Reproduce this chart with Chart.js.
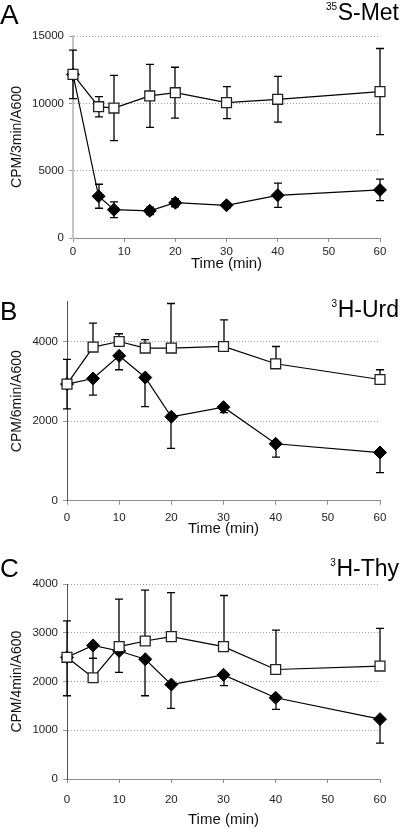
<!DOCTYPE html>
<html>
<head>
<meta charset="utf-8">
<script src="https://cdn.jsdelivr.net/npm/chart.js@4.4.1/dist/chart.umd.min.js"></script>
<style>
  body { margin: 0; background: #fff; }
  #wrap { position: relative; width: 400px; height: 829px; overflow: hidden; }
  canvas { position: absolute; left: 0; }
</style>
</head>
<body>
<div id="wrap">
  <canvas id="chartA" width="400" height="275" style="top:0px"></canvas>
  <canvas id="chartB" width="400" height="262" style="top:278px"></canvas>
  <canvas id="chartC" width="400" height="289" style="top:540px"></canvas>
</div>
<script>
// time points (min)
const timesA = [0, 5, 8, 15, 20, 30, 40, 60];
const timesBC = [0, 5, 10, 15, 20, 30, 40, 60];
const xTicks = [0, 10, 20, 30, 40, 50, 60];

// A: 35S-Met (open squares / filled diamonds, symmetric errors)
const openA = [12150, 9750, 9650, 10550, 10790, 10050, 10300, 10870];
const openErrA = [1800, 750, 2420, 2340, 1890, 1190, 1700, 3200];
const closedA = [12150, 3100, 2100, 2020, 2620, 2430, 3170, 3570];
const closedErrA = [0, 890, 580, 280, 300, 200, 900, 800];
const yTicksA = [0, 5000, 10000, 15000];

// B: 3H-Urd (open: plus error only, closed: minus error only)
const openB = [2930, 3860, 4000, 3835, 3835, 3875, 3440, 3045];
const openErrB = [620, 600, 195, 210, 1120, 670, 435, 245];
const closedB = [2930, 3070, 3640, 3095, 2110, 2350, 1430, 1210];
const closedErrB = [625, 415, 350, 730, 795, 135, 335, 505];
const yTicksB = [0, 2000, 4000];

// C: 3H-Thy
const openC = [2500, 2080, 2720, 2835, 2925, 2720, 2250, 2320];
const openErrC = [750, 400, 975, 1045, 905, 1050, 810, 775];
const closedC = [2500, 2745, 2630, 2460, 1940, 2140, 1670, 1230];
const closedErrC = [790, 265, 440, 750, 490, 220, 240, 495];
const yTicksC = [0, 1000, 2000, 3000, 4000];

const FONT = '"Liberation Sans", Arial, Helvetica, sans-serif';

const toPoints = (xs, ys) => xs.map((x, i) => ({ x: x, y: ys[i] }));

// vertical error bars with caps, drawn under the lines and markers
const errorBars = {
  id: 'errorBars',
  beforeDatasetsDraw(chart) {
    const ctx = chart.ctx;
    const yScale = chart.scales.y;
    chart.data.datasets.forEach((ds, di) => {
      if (!ds.errors) return;
      const meta = chart.getDatasetMeta(di);
      ctx.save();
      ctx.strokeStyle = '#000';
      ctx.lineWidth = 1.3;
      meta.data.forEach((pt, i) => {
        const v = ds.data[i].y, e = ds.errors[i];
        if (!e) return;
        const hi = ds.errorDir === 'minus' ? v : v + e;
        const lo = ds.errorDir === 'plus' ? v : v - e;
        const x = Math.round(pt.x);
        const yHi = yScale.getPixelForValue(hi);
        const yLo = yScale.getPixelForValue(lo);
        ctx.beginPath();
        ctx.moveTo(x, yHi);
        ctx.lineTo(x, yLo);
        if (ds.errorDir !== 'minus') { ctx.moveTo(x - 4, yHi); ctx.lineTo(x + 4, yHi); }
        if (ds.errorDir !== 'plus') { ctx.moveTo(x - 4, yLo); ctx.lineTo(x + 4, yLo); }
        ctx.stroke();
      });
      ctx.restore();
    });
  }
};

// panel letter + isotope label with superscript
const panelText = {
  id: 'panelText',
  afterDraw(chart, args, opts) {
    const ctx = chart.ctx;
    ctx.save();
    ctx.fillStyle = '#000';
    ctx.textBaseline = 'alphabetic';
    ctx.textAlign = 'left';
    ctx.font = opts.letterSize + 'px ' + FONT;
    ctx.fillText(opts.letter, 0, opts.letterY);
    ctx.font = '23px ' + FONT;
    ctx.textAlign = 'right';
    ctx.fillText(opts.name, 399, opts.nameY);
    const w = ctx.measureText(opts.name).width;
    ctx.font = '10px ' + FONT;
    ctx.fillText(opts.sup, 399 - w - 0.5, opts.nameY - 10);
    ctx.restore();
  }
};

function makeChart(id, cfg) {
  const canvas = document.getElementById(id);
  const H = canvas.height;
  return new Chart(canvas, {
    type: 'line',
    data: {
      datasets: [
        {
          data: toPoints(cfg.times, cfg.open),
          errors: cfg.openErr,
          errorDir: cfg.openDir,
          borderColor: '#000',
          borderWidth: 1.2,
          pointStyle: 'rect',
          pointRadius: 7,
          pointBackgroundColor: '#fff',
          pointBorderColor: '#222',
          pointBorderWidth: 1.3,
          tension: 0,
          clip: false
        },
        {
          data: toPoints(cfg.times, cfg.closed),
          errors: cfg.closedErr,
          errorDir: cfg.closedDir,
          borderColor: '#000',
          borderWidth: 1.2,
          pointStyle: 'rectRot',
          pointRadius: 6.5,
          pointBackgroundColor: '#000',
          pointBorderColor: '#000',
          pointBorderWidth: 1,
          tension: 0,
          clip: false
        }
      ]
    },
    options: {
      responsive: false,
      animation: false,
      events: [],
      layout: { padding: { left: 0, right: 20, top: cfg.top, bottom: 0 } },
      plugins: {
        legend: { display: false },
        tooltip: { enabled: false },
        panelText: cfg.text
      },
      scales: {
        x: {
          type: 'linear',
          min: 0,
          max: 60,
          afterBuildTicks: s => { s.ticks = xTicks.map(v => ({ value: v })); },
          afterFit: s => { s.height = H - cfg.bottom; s.paddingLeft = 0; s.paddingRight = 0; },
          grid: { drawOnChartArea: false, drawTicks: true, tickLength: 4, tickColor: '#8a8a8a' },
          border: { color: '#8a8a8a', width: 1 },
          ticks: { color: '#222', padding: cfg.xPad, font: { family: FONT, size: 11.5 }, maxRotation: 0, callback: v => String(v) },
          title: { display: true, text: 'Time (min)', color: '#111', font: { family: FONT, size: 15 }, padding: { top: 0, bottom: cfg.titlePad } }
        },
        y: {
          min: 0,
          max: cfg.yMax,
          afterBuildTicks: s => { s.ticks = cfg.yTicks.map(v => ({ value: v })); },
          afterFit: s => { s.width = cfg.left; s.paddingTop = 0; s.paddingBottom = 0; },
          grid: {
            color: c => (c.tick && c.tick.value === 0 ? 'rgba(0,0,0,0)' : '#9a9a9a'),
            lineWidth: 1,
            tickLength: 4,
            tickColor: '#9a9a9a'
          },
          border: { color: cfg.axisColor, width: cfg.axisWidth, dash: [1, 2] },
          ticks: { color: '#222', padding: 5, font: { family: FONT, size: 11.5 }, callback: v => String(v) },
          title: { display: true, text: cfg.yTitle, color: '#111', font: { family: FONT, size: 14 }, padding: { top: 9, bottom: 0 } }
        }
      }
    },
    plugins: [errorBars, panelText]
  });
}

makeChart('chartA', {
  times: timesA, open: openA, openErr: openErrA, openDir: 'both',
  closed: closedA, closedErr: closedErrA, closedDir: 'both',
  yMax: 15000, yTicks: yTicksA, yTitle: 'CPM/3min/A600',
  left: 73, top: 36, bottom: 238, xPad: 3, titlePad: 2,
  axisColor: '#c4c4c4', axisWidth: 2,
  text: { letter: 'A', letterSize: 28, letterY: 23.5, sup: '35', name: 'S-Met', nameY: 19.5 }
});

makeChart('chartB', {
  times: timesBC, open: openB, openErr: openErrB, openDir: 'plus',
  closed: closedB, closedErr: closedErrB, closedDir: 'minus',
  yMax: 5000, yTicks: yTicksB, yTitle: 'CPM/6min/A600',
  left: 67, top: 23.7, bottom: 222.7, xPad: 6, titlePad: 2,
  axisColor: '#555', axisWidth: 1,
  text: { letter: 'B', letterSize: 26, letterY: 42, sup: '3', name: 'H-Urd', nameY: 38.7 }
});

makeChart('chartC', {
  times: timesBC, open: openC, openErr: openErrC, openDir: 'plus',
  closed: closedC, closedErr: closedErrC, closedDir: 'minus',
  yMax: 4000, yTicks: yTicksC, yTitle: 'CPM/4min/A600',
  left: 67, top: 44.3, bottom: 239, xPad: 10, titlePad: 0,
  axisColor: '#555', axisWidth: 1,
  text: { letter: 'C', letterSize: 26, letterY: 36.7, sup: '3', name: 'H-Thy', nameY: 36 }
});
</script>
</body>
</html>
